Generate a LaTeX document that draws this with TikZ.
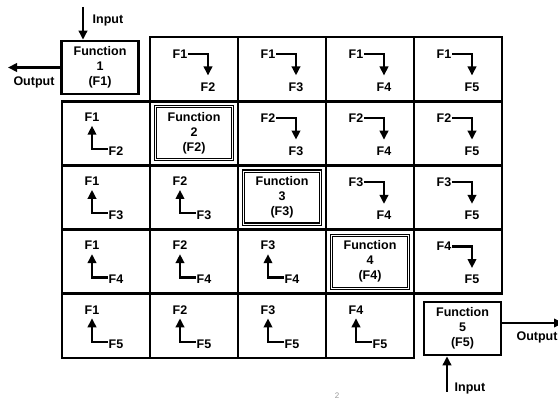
\documentclass[tikz,border=0pt]{standalone}
\usepackage{fontspec}
\setmainfont{Liberation Sans}
\usetikzlibrary{arrows.meta}
\begin{document}
\begin{tikzpicture}[x=1pt, y=-1pt, font=\fontsize{12.5}{15}\selectfont\bfseries,
	cell/.style={draw, line width=2.9pt, minimum width=88pt, minimum height=64.2pt, inner sep=0pt},
	fnbox/.style={draw, line width=2.7pt, minimum width=77pt, minimum height=53pt, align=center, inner sep=0pt},
	fnboxd/.style={fnbox, line width=1.3pt, double, double distance=0.6pt},
	lbl/.style={inner sep=1pt},
	arr/.style={line width=2.2pt, -{Triangle[width=8.5pt,length=9pt]}}]
	\useasboundingbox (0,0) rectangle (558,401);
	% off-diagonal cells: upper = feed forward, lower = feedback
	\foreach \i in {1,...,5} \foreach \j in {1,...,5} {\pgfmathsetmacro\X{62+88*(\j-1)}\pgfmathsetmacro\Y{37+64.2*(\i-1)}
		\ifnum\i<\j\relax \node[cell] (c\i\j) at (\X+44,\Y+32.1) {}; \node[lbl] (s\i\j) at (\X+30,\Y+17) {F\i}; \node[lbl] (t\i\j) at (\X+58,\Y+50) {F\j}; \draw[arr, shorten >=6pt] (s\i\j.east) -| (t\i\j.north); \fi
		\ifnum\i>\j\relax \node[cell] (c\i\j) at (\X+44,\Y+32.1) {}; \node[lbl] (s\i\j) at (\X+30,\Y+16) {F\j}; \node[lbl] (t\i\j) at (\X+54,\Y+50) {F\i}; \draw[arr, shorten >=3pt] ([yshift=2pt]t\i\j.west) -| (s\i\j.south); \fi}
	% functions on the diagonal
	\foreach \k in {2,3,4} {\pgfmathsetmacro\X{62+88*(\k-1)}\pgfmathsetmacro\Y{37+64.2*(\k-1)}
		\node[cell] (c\k\k) at (\X+44,\Y+32.1) {}; \node[fnboxd] (fn\k) at (c\k\k) {Function\\\k\\(F\k)};}
	\node[fnbox] (fn1) at (100,67.5) {Function\\1\\(F1)};
	\node[fnbox] (fn5) at (462.5,328.5) {Function\\5\\(F5)};
	% inputs and outputs
	\coordinate (in1) at (83,7); \draw[arr] (in1) -- (in1 |- fn1.north); \node[lbl] (inlbl1) at (108,20) {Input};
	\coordinate (out1) at (8,67.5); \draw[arr] (fn1.west) -- (out1); \node[lbl] (outlbl1) at (34,82) {Output};
	\coordinate (out5) at (563,323); \draw[arr] (fn5.east |- out5) -- (out5); \node[lbl] (outlbl5) at (537,337) {Output};
	\coordinate (in5) at (447,392); \draw[arr] (in5) -- (in5 |- fn5.south); \node[lbl] (inlbl5) at (470,388) {Input};
	\node[font=\fontsize{8}{9}\selectfont, text=black!40] (pg) at (337,396) {2};
\end{tikzpicture}
\end{document}
